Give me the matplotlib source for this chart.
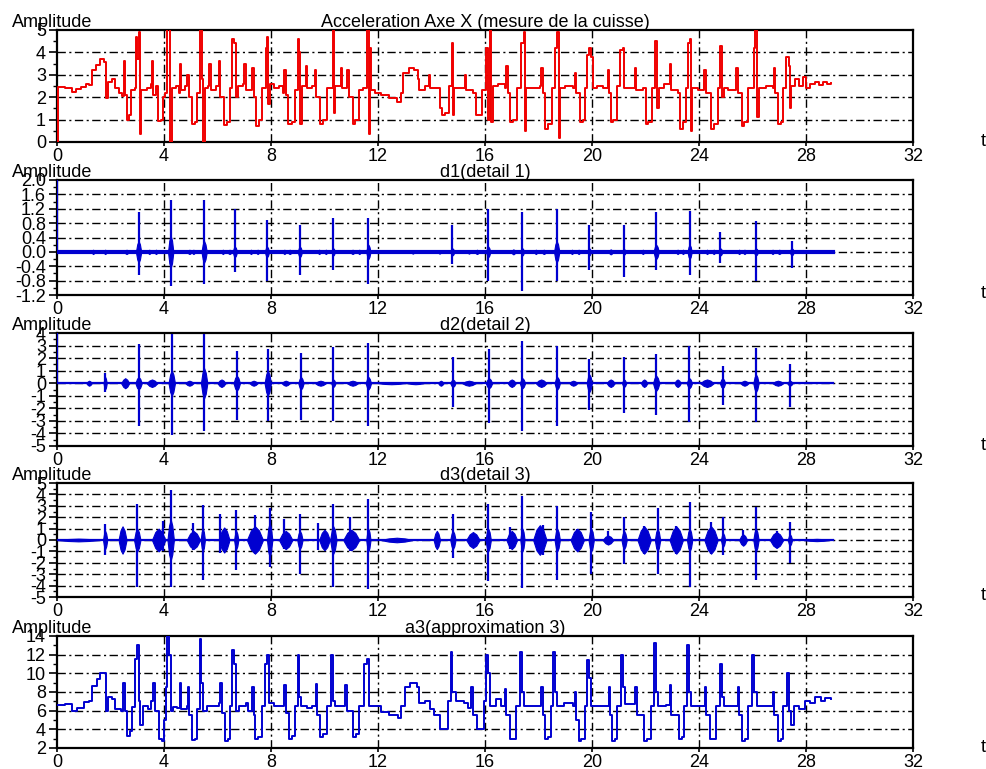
import matplotlib
matplotlib.use("Agg")
import matplotlib.pyplot as plt
from matplotlib.ticker import MultipleLocator, FormatStrFormatter

plt.rcParams["font.family"] = ["Liberation Sans", "DejaVu Sans"]
plt.rcParams["axes.unicode_minus"] = False

# ── Panel 1: raw acceleration (vertices) ─────────────────────────────────────
acc_t = [0.00, 0.02, 0.30, 0.55, 0.70, 0.90, 1.10, 1.20, 1.30, 1.45, 1.60, 1.75, 1.82, 1.85, 1.92,
         2.05, 2.15, 2.30, 2.42, 2.50, 2.55, 2.62, 2.70, 2.78, 2.90, 2.95, 3.00, 3.05, 3.10, 3.15,
         3.35, 3.50, 3.55, 3.60, 3.70, 3.78, 3.88, 3.95, 4.05, 4.12, 4.20, 4.24, 4.30, 4.45, 4.55,
         4.60, 4.65, 4.80, 4.85, 4.92, 5.05, 5.15, 5.25, 5.35, 5.42, 5.47, 5.52, 5.65, 5.70, 5.75,
         5.95, 6.05, 6.10, 6.25, 6.35, 6.45, 6.55, 6.62, 6.68, 6.75, 6.95, 7.00, 7.05, 7.30, 7.35,
         7.45, 7.55, 7.65, 7.80, 7.85, 7.90, 7.95, 8.10, 8.30, 8.45, 8.50, 8.55, 8.65, 8.78, 8.90,
         9.00, 9.05, 9.08, 9.15, 9.30, 9.35, 9.55, 9.65, 9.70, 9.85, 9.95, 10.10, 10.30, 10.35, 10.40,
         10.60, 10.65, 10.85, 10.90, 11.05, 11.15, 11.30, 11.45, 11.60, 11.65, 11.70, 11.75, 11.90,
         12.10, 12.40, 12.70, 12.85, 12.95, 13.15, 13.35, 13.50, 13.55, 13.75, 13.90, 13.95, 14.15,
         14.30, 14.40, 14.50, 14.65, 14.75, 14.80, 14.85, 15.10, 15.25, 15.30, 15.55, 15.65, 15.78,
         15.90, 16.05, 16.12, 16.18, 16.22, 16.30, 16.50, 16.75, 16.80, 16.85, 16.95, 17.05, 17.20,
         17.35, 17.45, 17.50, 17.55, 17.75, 18.05, 18.10, 18.15, 18.25, 18.35, 18.50, 18.62, 18.68,
         18.75, 18.80, 19.00, 19.30, 19.35, 19.40, 19.55, 19.65, 19.75, 19.80, 19.90, 19.98, 20.02,
         20.20, 20.40, 20.60, 20.65, 20.70, 20.80, 20.95, 21.05, 21.15, 21.20, 21.35, 21.60, 21.65,
         21.90, 22.00, 22.10, 22.25, 22.35, 22.42, 22.50, 22.70, 22.90, 22.95, 23.20, 23.30, 23.40,
         23.50, 23.58, 23.65, 23.70, 23.75, 23.95, 24.20, 24.25, 24.45, 24.55, 24.70, 24.80, 24.85,
         24.95, 25.10, 25.40, 25.45, 25.60, 25.70, 25.85, 26.05, 26.10, 26.15, 26.25, 26.50, 26.75,
         26.80, 26.85, 26.95, 27.05, 27.15, 27.25, 27.35, 27.40, 27.45, 27.60, 27.75, 27.90, 28.00,
         28.15, 28.35, 28.50, 28.65, 28.80, 28.95]
acc_v = [0.00, 2.45, 2.40, 2.25, 2.35, 2.45, 2.60, 2.55, 3.20, 3.45, 3.70, 3.55, 3.30, 1.95, 2.70,
         2.80, 2.40, 2.20, 2.05, 3.60, 2.10, 1.00, 1.20, 2.30, 2.40, 4.70, 3.70, 4.90, 0.35, 2.30,
         2.40, 2.60, 3.60, 2.10, 2.50, 0.95, 1.00, 2.00, 2.20, 5.30, 5.30, 0.00, 2.40, 2.50, 2.20,
         3.50, 2.30, 2.50, 3.00, 2.00, 0.80, 0.90, 2.20, 5.30, 2.80, 0.00, 2.40, 2.50, 3.50, 2.30,
         2.50, 3.60, 2.00, 0.75, 0.90, 2.40, 4.60, 4.40, 2.00, 2.50, 2.60, 3.50, 2.30, 3.30, 2.00,
         0.70, 1.00, 2.40, 4.20, 4.70, 1.70, 2.60, 2.40, 2.50, 2.20, 3.20, 2.10, 0.80, 0.90, 2.30,
         4.60, 4.00, 0.80, 2.50, 3.40, 2.40, 2.50, 3.20, 2.00, 0.80, 1.00, 2.40, 5.30, 1.30, 2.50,
         3.30, 2.40, 3.20, 2.00, 0.80, 1.00, 2.30, 2.40, 5.30, 0.35, 4.20, 2.30, 2.20,
         2.10, 1.95, 1.80, 2.20, 3.10, 3.30, 3.20, 2.80, 2.30, 2.50, 3.00, 2.40, 2.40,
         1.50, 1.20, 1.30, 2.50, 4.40, 1.20, 2.40, 2.40, 3.00, 2.30, 2.20, 1.20, 1.20,
         2.30, 4.20, 1.00, 5.30, 0.90, 2.50, 2.60, 2.40, 3.40, 2.20, 0.90, 1.00, 2.40,
         4.40, 4.90, 0.50, 2.40, 2.40, 2.50, 3.30, 2.20, 0.60, 0.80, 2.40, 4.20, 4.90,
         0.20, 2.40, 2.50, 2.40, 3.10, 2.20, 0.90, 1.00, 2.40, 3.90, 4.20, 3.80, 2.40,
         2.50, 2.40, 3.20, 2.20, 0.90, 1.00, 2.50, 4.10, 4.20, 2.40, 2.40, 3.30, 2.30,
         2.40, 0.80, 0.90, 2.40, 4.50, 1.50, 2.40, 2.60, 3.50, 2.30, 2.20, 0.60, 0.90,
         2.40, 4.40, 4.60, 0.50, 2.40, 2.30, 3.20, 2.20, 0.60, 0.80, 2.40, 4.30, 2.00,
         2.40, 2.30, 3.30, 2.20, 0.70, 0.90, 2.40, 4.20, 5.30, 1.10, 2.40, 2.50, 2.40,
         3.30, 2.20, 0.80, 0.90, 2.40, 3.80, 3.40, 1.50, 2.50, 2.80, 2.50, 2.90, 2.40,
         2.60, 2.70, 2.55, 2.70, 2.60, 2.65]

# ── Panels 2-4: details (spikes: time, top, bottom; bursts: centre, half width, amplitude) ──
d1_spike_t = [0.00, 3.05, 4.25, 5.50, 6.65, 7.85, 9.08, 10.33, 11.64, 14.78, 16.12, 17.40, 18.68,
              19.90, 21.20, 22.40, 23.65, 24.80, 26.13, 27.47]
d1_spike_hi = [2.10, 1.10, 1.45, 1.45, 1.20, 0.90, 0.75, 0.95, 0.95, 0.75, 1.20, 1.10, 1.20,
               0.75, 0.75, 1.10, 1.15, 0.55, 0.85, 0.30]
d1_spike_lo = [0.00, -0.65, -0.95, -0.90, -0.55, -0.80, -0.65, -0.50, -0.90, -0.35, -0.80, -1.10, -0.80,
               -0.50, -0.70, -0.50, -0.65, -0.30, -0.80, -0.45]
d1_burst_c = [1.35, 1.80, 2.60, 3.05, 3.45, 3.70, 4.25, 4.95, 5.10, 5.50, 6.20, 6.45, 6.65, 7.25,
              7.50, 7.85, 8.50, 8.70, 9.08, 9.80, 10.05, 10.33, 11.05, 11.30, 11.64, 13.30, 14.30,
              14.78, 15.40, 15.70, 16.12, 17.06, 17.40, 17.90, 18.20, 18.68, 19.25, 19.50, 19.90,
              20.70, 21.20, 21.90, 22.40, 23.20, 23.40, 23.65, 24.30, 24.55, 24.80, 25.50, 25.70,
              26.13, 26.75, 27.00, 27.47]
d1_burst_w = [0.06, 0.06, 0.08, 0.10, 0.06, 0.06, 0.10, 0.08, 0.06, 0.10, 0.06, 0.08, 0.08, 0.06,
              0.06, 0.08, 0.06, 0.08, 0.08, 0.06, 0.06, 0.06, 0.08, 0.06, 0.08, 0.06, 0.06,
              0.08, 0.06, 0.08, 0.08, 0.08, 0.06, 0.06, 0.08, 0.10, 0.06, 0.06, 0.06,
              0.08, 0.06, 0.06, 0.10, 0.06, 0.06, 0.08, 0.06, 0.06, 0.08, 0.06, 0.06,
              0.08, 0.06, 0.08, 0.08]
d1_burst_a = [0.06, 0.06, 0.06, 0.30, 0.06, 0.06, 0.45, 0.06, 0.06, 0.30, 0.06, 0.06, 0.15, 0.06,
              0.06, 0.15, 0.06, 0.06, 0.15, 0.06, 0.06, 0.10, 0.06, 0.06, 0.20, 0.05, 0.05,
              0.10, 0.05, 0.06, 0.15, 0.07, 0.10, 0.06, 0.06, 0.30, 0.06, 0.06, 0.10,
              0.07, 0.08, 0.06, 0.20, 0.06, 0.06, 0.20, 0.06, 0.06, 0.10, 0.06, 0.06,
              0.10, 0.06, 0.06, 0.10]

d2_spike_t = [0.00, 1.80, 3.05, 4.29, 5.50, 6.72, 7.88, 9.12, 10.33, 11.64, 14.80, 16.15, 17.40,
              18.70, 19.90, 21.20, 22.40, 23.64, 24.88, 26.13, 27.40]
d2_spike_hi = [4.5, 0.8, 3.1, 3.9, 3.9, 2.6, 2.7, 2.4, 2.9, 3.2, 2.1, 2.7, 3.4,
               3.0, 1.9, 2.1, 2.3, 3.0, 1.4, 2.8, 1.5]
d2_spike_lo = [0.0, -0.7, -3.4, -4.1, -3.8, -2.9, -3.0, -2.9, -3.0, -3.4, -1.9, -3.2, -3.8,
               -3.4, -2.1, -2.4, -2.5, -3.1, -1.7, -3.1, -1.9]
d2_burst_c = [1.20, 1.80, 2.55, 3.05, 3.55, 4.29, 4.95, 5.50, 6.15, 6.72, 7.35, 7.88, 8.55, 9.12,
              9.85, 10.33, 11.05, 11.64, 12.50, 13.40, 14.35, 14.80, 15.40, 16.15, 17.00, 17.40,
              18.10, 18.70, 19.30, 19.90, 20.70, 21.20, 21.95, 22.40, 23.20, 23.64, 24.30, 24.88,
              25.70, 26.13, 26.95, 27.40]
d2_burst_w = [0.10, 0.06, 0.15, 0.12, 0.20, 0.12, 0.15, 0.12, 0.15, 0.12, 0.15, 0.12, 0.15, 0.10,
              0.20, 0.08, 0.20, 0.10, 0.50, 0.30, 0.10, 0.10, 0.25, 0.12, 0.15, 0.10,
              0.20, 0.10, 0.15, 0.10, 0.15, 0.08, 0.12, 0.12, 0.12, 0.10, 0.25, 0.10,
              0.15, 0.10, 0.20, 0.10]
d2_burst_a = [0.20, 0.50, 0.40, 0.50, 0.30, 1.00, 0.20, 1.20, 0.30, 0.60, 0.20, 1.00, 0.20, 0.50,
              0.20, 0.30, 0.20, 0.50, 0.08, 0.08, 0.20, 0.30, 0.20, 0.40, 0.30, 0.40,
              0.30, 0.50, 0.20, 0.70, 0.30, 0.30, 0.30, 0.60, 0.30, 0.40, 0.30, 0.40,
              0.20, 0.70, 0.20, 0.20]

d3_spike_t = [1.80, 3.00, 3.95, 4.25, 5.10, 5.45, 6.10, 6.70, 7.40, 7.95, 8.50, 9.08, 9.75, 10.33,
              10.95, 11.64, 14.80, 16.12, 16.95, 17.40, 18.15, 18.70, 19.45, 19.97, 20.60, 21.20,
              21.95, 22.45, 23.15, 23.65, 24.45, 24.90, 25.65, 26.13, 26.90, 27.40]
d3_spike_hi = [1.4, 3.2, 1.7, 4.4, 1.5, 3.1, 2.3, 2.6, 2.2, 2.8, 1.8, 2.3, 1.5, 3.2,
               2.0, 3.6, 2.3, 3.2, 1.1, 3.9, 1.3, 3.0, 1.0, 2.5, 0.8, 2.0,
               1.2, 2.8, 1.2, 3.3, 1.6, 2.0, 0.9, 2.9, 0.8, 1.6]
d3_spike_lo = [-1.3, -4.1, -1.0, -4.1, -0.9, -3.5, -1.1, -2.6, -1.2, -2.4, -0.8, -3.0, -0.9, -4.1,
               -1.0, -4.3, -1.6, -3.6, -0.8, -4.2, -1.3, -3.5, -1.0, -3.0, -0.4, -2.1,
               -1.2, -3.0, -1.2, -4.1, -1.2, -1.3, -0.4, -3.5, -0.7, -2.0]
d3_burst_c = [0.80, 1.80, 2.45, 3.00, 3.80, 4.25, 5.10, 5.45, 6.25, 6.70, 7.40, 7.95, 8.55, 9.08,
              10.00, 10.33, 11.00, 11.64, 12.70, 14.20, 14.80, 15.55, 16.12, 17.00, 17.40, 18.05,
              18.70, 19.45, 19.97, 20.60, 21.20, 21.95, 22.45, 23.15, 23.65, 24.45, 24.90, 25.65,
              26.13, 26.90, 27.40, 28.40]
d3_burst_w = [0.80, 0.08, 0.15, 0.12, 0.25, 0.12, 0.25, 0.08, 0.20, 0.08, 0.30, 0.10, 0.25, 0.10,
              0.20, 0.12, 0.30, 0.08, 0.60, 0.12, 0.10, 0.25, 0.10, 0.20, 0.08, 0.25,
              0.10, 0.25, 0.10, 0.20, 0.10, 0.25, 0.10, 0.25, 0.10, 0.25, 0.08, 0.15,
              0.10, 0.25, 0.08, 0.50]
d3_burst_a = [0.12, 0.80, 1.20, 1.00, 1.00, 1.80, 0.80, 1.00, 1.10, 0.80, 1.20, 1.50, 0.80, 0.80,
              0.90, 1.20, 0.90, 1.00, 0.20, 0.80, 0.80, 0.70, 1.00, 0.80, 1.00, 1.30,
              1.00, 1.00, 1.00, 0.40, 0.80, 1.20, 1.00, 1.20, 1.00, 1.20, 0.60, 0.50,
              1.00, 0.70, 0.50, 0.10]

# ── Panel 5: approximation a3 ────────────────────────────────────────────────
a3_t = [0.00, 0.30, 0.55, 0.75, 1.00, 1.20, 1.30, 1.50, 1.60, 1.78, 1.85, 1.92, 2.05, 2.15, 2.40,
        2.48, 2.55, 2.62, 2.72, 2.80, 2.92, 2.98, 3.05, 3.10, 3.20, 3.40, 3.50, 3.60, 3.65, 3.80,
        3.92, 4.00, 4.08, 4.12, 4.20, 4.26, 4.35, 4.50, 4.58, 4.62, 4.85, 4.90, 4.95, 5.05, 5.15,
        5.25, 5.33, 5.40, 5.45, 5.60, 5.80, 6.05, 6.10, 6.15, 6.28, 6.38, 6.48, 6.55, 6.62, 6.68,
        6.80, 7.05, 7.15, 7.30, 7.35, 7.42, 7.52, 7.65, 7.78, 7.85, 7.92, 8.10, 8.35, 8.50, 8.55,
        8.68, 8.78, 8.90, 9.00, 9.06, 9.12, 9.35, 9.55, 9.68, 9.72, 9.83, 9.95, 10.10, 10.25, 10.32,
        10.40, 10.65, 10.78, 10.85, 11.08, 11.18, 11.30, 11.48, 11.58, 11.65, 11.85, 12.10, 12.40,
        12.75, 12.85, 13.00, 13.20, 13.45, 13.55, 13.75, 13.95, 14.10, 14.30, 14.45, 14.60, 14.72,
        14.78, 14.90, 15.20, 15.35, 15.48, 15.55, 15.70, 15.88, 15.98, 16.05, 16.10, 16.18, 16.40,
        16.60, 16.75, 16.80, 16.92, 17.05, 17.15, 17.30, 17.38, 17.45, 17.75, 18.05, 18.10, 18.15,
        18.25, 18.35, 18.45, 18.55, 18.62, 18.70, 18.95, 19.30, 19.35, 19.40, 19.50, 19.60, 19.72,
        19.80, 19.88, 19.95, 20.20, 20.55, 20.62, 20.68, 20.75, 20.85, 20.95, 21.10, 21.15, 21.22,
        21.45, 21.60, 21.68, 21.95, 22.05, 22.20, 22.33, 22.40, 22.48, 22.75, 22.90, 22.95, 23.25,
        23.35, 23.45, 23.55, 23.62, 23.70, 23.95, 24.22, 24.28, 24.40, 24.50, 24.62, 24.78, 24.85,
        24.95, 25.25, 25.45, 25.50, 25.62, 25.72, 25.85, 25.98, 26.05, 26.15, 26.45, 26.75, 26.80,
        26.95, 27.05, 27.15, 27.28, 27.35, 27.45, 27.55, 27.75, 27.95, 28.15, 28.35, 28.55, 28.70,
        28.95]
a3_v = [6.6, 6.7, 6.0, 6.3, 6.9, 7.0, 8.6, 9.4, 10.0, 10.0, 6.0, 7.5, 7.3, 6.2, 6.0,
        9.0, 6.0, 3.3, 3.8, 6.4, 11.5, 13.0, 7.0, 4.5, 6.5, 6.2, 7.0, 9.0, 6.0, 3.0,
        2.7, 5.0, 8.5, 14.5, 12.0, 6.0, 6.4, 6.3, 9.0, 6.2, 6.5, 8.5, 5.5, 2.9, 3.0,
        6.2, 13.7, 9.0, 6.0, 6.5, 6.5, 6.8, 9.0, 5.8, 2.7, 3.0, 6.5, 12.5, 11.0, 6.0,
        6.5, 6.8, 6.0, 8.5, 5.5, 3.0, 3.2, 6.5, 11.0, 12.0, 6.8, 6.5, 6.5, 8.7, 5.8,
        3.0, 3.3, 6.5, 12.0, 7.5, 6.5, 6.3, 6.5, 8.9, 5.5, 3.2, 3.5, 6.5, 12.0, 7.0,
        6.5, 6.5, 8.8, 6.0, 3.2, 3.5, 6.5, 11.0, 11.5, 6.5, 6.5, 5.9, 5.5,
        5.2, 6.5, 8.5, 9.0, 8.5, 6.8, 7.0, 6.2, 5.5, 4.0, 4.0, 7.0, 12.3,
        8.0, 7.0, 6.8, 6.3, 8.5, 5.5, 4.0, 4.0, 7.0, 12.0, 10.0, 6.5, 7.2,
        6.5, 8.3, 5.5, 3.0, 3.0, 6.5, 12.3, 8.0, 6.5, 6.5, 6.5, 8.5, 5.5,
        3.0, 3.2, 6.5, 12.3, 8.0, 6.5, 6.8, 6.5, 8.0, 5.0, 2.8, 3.0, 6.5,
        11.4, 9.5, 6.5, 6.5, 6.5, 8.5, 5.5, 2.8, 3.0, 6.5, 12.0, 8.5, 6.7,
        6.7, 8.5, 5.5, 2.8, 3.0, 6.5, 13.2, 8.0, 6.5, 6.6, 8.8, 5.5, 3.0,
        3.2, 6.5, 13.0, 8.0, 6.5, 6.5, 8.5, 5.5, 3.0, 3.0, 6.5, 11.0, 7.5,
        6.5, 6.5, 8.5, 5.5, 2.8, 3.0, 6.5, 12.0, 8.0, 6.5, 6.5, 8.0, 5.5,
        2.8, 3.0, 6.5, 10.0, 6.0, 4.5, 6.5, 6.2, 7.0, 6.8, 7.5, 7.0, 7.4,
        7.3]

titles = ["Acceleration Axe X (mesure de la cuisse)", "d1(detail 1)", "d2(detail 2)",
          "d3(detail 3)", "a3(approximation 3)"]
ylims = [(0, 5), (-1.2, 2.0), (-5, 4), (-5, 5), (2, 14)]
ymajor = [1, 0.4, 1, 1, 2]
yminor = [0.5, 0.2, 0.5, 0.5, 1]
yfmt = ["%d", "%.1f", "%d", "%d", "%d"]
x_ticks = [0, 4, 8, 12, 16, 20, 24, 28, 32]
t_end = 29.0

# panel top / bottom in pixels
panel_px = [(30, 142), (180, 295), (333, 446), (483, 597), (636, 748)]
W, H = 987, 769
BLUE = "#0000d0"
RED = "#f00000"
GRID = dict(color="black", linewidth=1.0, linestyle=(0, (6, 2.5, 1.5, 2.5)))

fig = plt.figure(figsize=(W / 100, H / 100), dpi=100)
axes = []
for i, (top, bot) in enumerate(panel_px):
    ax = fig.add_axes([57 / W, 1 - bot / H, (913 - 57) / W, (bot - top) / H])
    axes.append(ax)
    lo, hi = ylims[i]
    ax.set_xlim(0, 32)
    ax.set_ylim(lo, hi)
    ax.set_xticks(x_ticks)
    ax.yaxis.set_major_locator(MultipleLocator(ymajor[i]))
    ax.yaxis.set_minor_locator(MultipleLocator(yminor[i]))
    ax.yaxis.set_major_formatter(FormatStrFormatter(yfmt[i]))
    ax.tick_params(axis="y", which="major", direction="out", length=6, width=1.2,
                   pad=2, labelsize=13)
    ax.tick_params(axis="y", which="minor", direction="out", length=3, width=1.0)
    ax.tick_params(axis="x", which="major", direction="out", length=3, width=1.2,
                   pad=1, labelsize=13)
    for s in ax.spines.values():
        s.set_linewidth(1.6)
    # dash-dot grid at inner major ticks
    for yv in ax.get_yticks():
        if lo < yv < hi:
            ax.axhline(yv, zorder=1, **GRID)
    for xv in x_ticks[1:-1]:
        ax.axvline(xv, zorder=1, **GRID)
    fig.text(12 / W, 1 - (top - 3) / H, "Amplitude", fontsize=13, va="baseline", ha="left")
    fig.text(485 / W, 1 - (top - 3) / H, titles[i], fontsize=13, va="baseline", ha="center")
    fig.text(983 / W, 1 - (bot - 1) / H, "t", fontsize=13, va="center", ha="center")

# sample-and-hold look of the original signals
axes[0].plot(acc_t, acc_v, color=RED, linewidth=1.4, drawstyle="steps-post", zorder=3)
axes[4].plot(a3_t, a3_v, color=BLUE, linewidth=1.4, drawstyle="steps-post", zorder=3)

details = [
    (axes[1], d1_spike_t, d1_spike_hi, d1_spike_lo, d1_burst_c, d1_burst_w, d1_burst_a, 3.0),
    (axes[2], d2_spike_t, d2_spike_hi, d2_spike_lo, d2_burst_c, d2_burst_w, d2_burst_a, 1.6),
    (axes[3], d3_spike_t, d3_spike_hi, d3_spike_lo, d3_burst_c, d3_burst_w, d3_burst_a, 1.6),
]
for ax, st, sh, sl, bc, bw, ba, base_lw in details:
    ax.plot([0, t_end], [0, 0], color=BLUE, linewidth=base_lw, zorder=3)
    ax.vlines(st, sl, sh, color=BLUE, linewidth=1.6, zorder=4)
    for c, w, a in zip(bc, bw, ba):
        # spindle-shaped burst envelope
        ax.fill_between([c - w, c - w / 2, c, c + w / 2, c + w],
                        [0, -0.7 * a, -a, -0.7 * a, 0], [0, 0.7 * a, a, 0.7 * a, 0],
                        color=BLUE, linewidth=0.8, zorder=3)

fig.savefig("out.png", dpi=100)
